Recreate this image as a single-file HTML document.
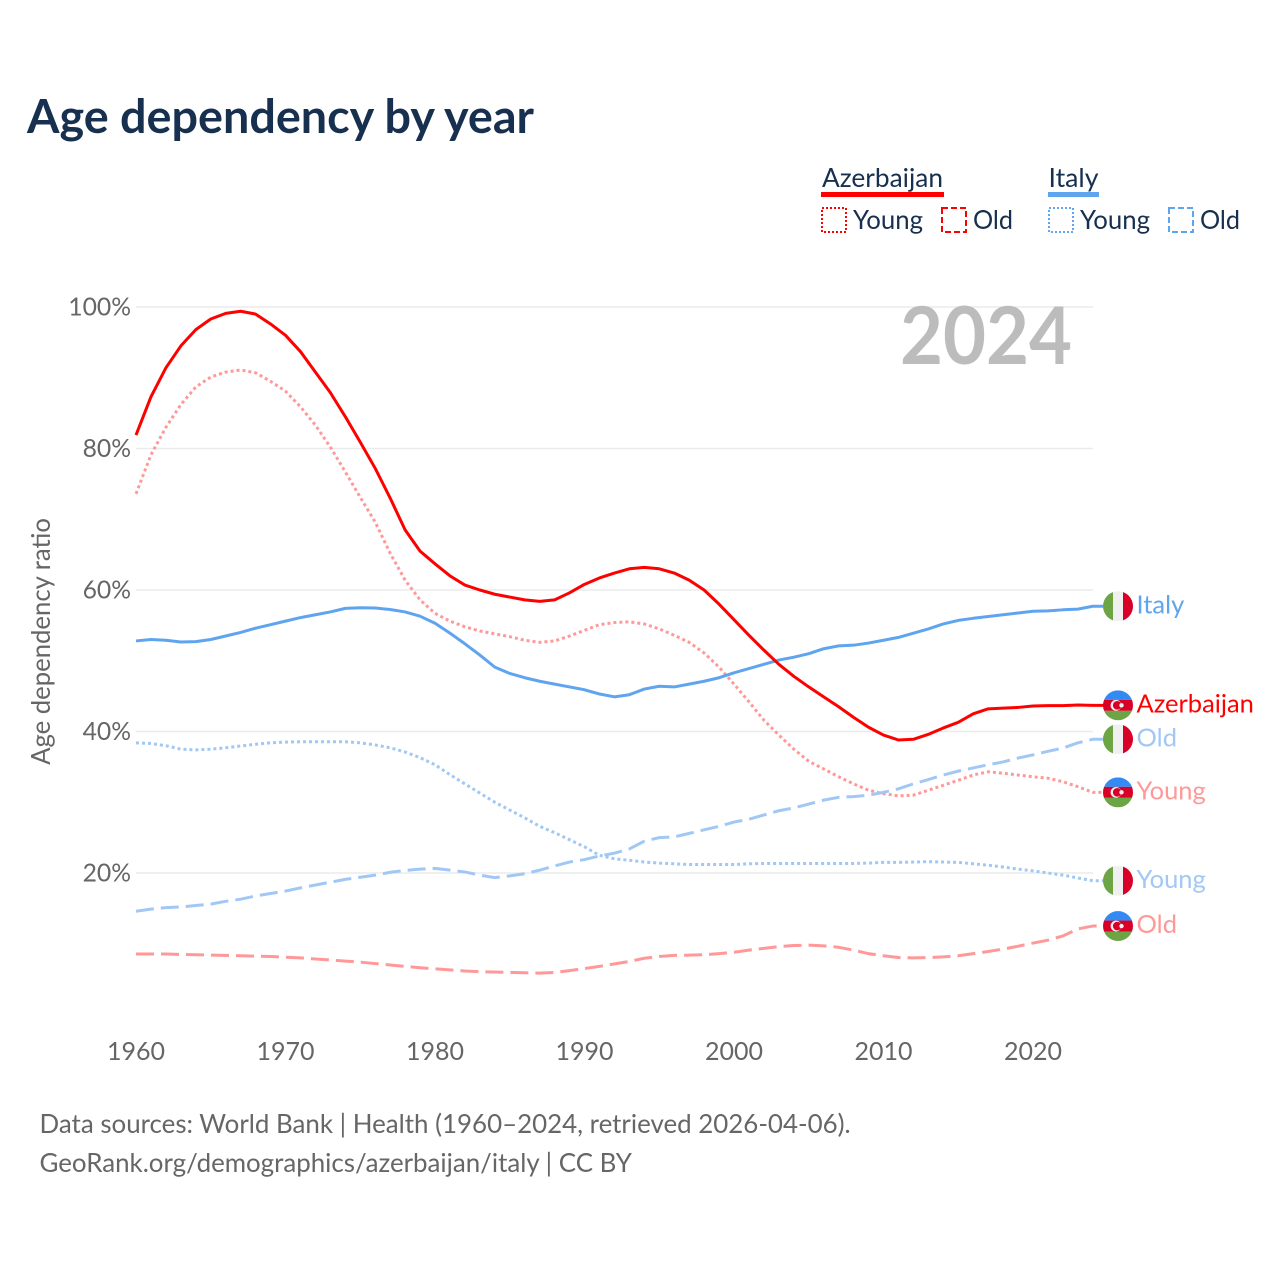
<!DOCTYPE html>
<html lang="en">
<head>
<meta charset="utf-8">
<title>Age dependency by year</title>
<style>
html,body{margin:0;padding:0;background:#fff}
svg{display:block}
text{font-family:"Lato","Carlito","Liberation Sans",sans-serif}
</style>
</head>
<body>
<svg id="chart" xmlns="http://www.w3.org/2000/svg" width="1280" height="1280" viewBox="0 0 1280 1280">
  <defs>
    <clipPath id="flag-clip"><circle cx="0" cy="0" r="15"/></clipPath>
    <g id="flag-it" clip-path="url(#flag-clip)">
      <rect x="-15" y="-15" width="30" height="30" fill="#f0f0f0"/>
      <rect x="-15" y="-15" width="10" height="30" fill="#6da544"/>
      <rect x="5" y="-15" width="10" height="30" fill="#d80027"/>
    </g>
    <g id="flag-az" clip-path="url(#flag-clip)">
      <rect x="-15" y="-15" width="30" height="9.5" fill="#338af3"/>
      <rect x="-15" y="-5.5" width="30" height="11" fill="#d80027"/>
      <rect x="-15" y="5.5" width="30" height="9.5" fill="#6da544"/>
      <circle cx="-2" cy="0" r="5.4" fill="#f0f0f0"/>
      <circle cx="-0.8" cy="0" r="4.3" fill="#d80027"/>
      <circle cx="3.5" cy="0" r="2.2" fill="#f0f0f0"/>
    </g>
  </defs>
  <rect width="1280" height="1280" fill="#fff"/>

  <text x="27" y="133" font-size="46.8" font-weight="700" fill="#17304f" textLength="507" lengthAdjust="spacingAndGlyphs">Age dependency by year</text>

  <g>
    <text x="822" y="187" font-size="25.7" fill="#17304f" textLength="121" lengthAdjust="spacingAndGlyphs">Azerbaijan</text>
    <rect x="821" y="192" width="123" height="5" fill="#ff0000"/>
    <rect x="822" y="208" width="24" height="24" fill="none" stroke="#ff0000" stroke-width="2" stroke-dasharray="2 2"/>
    <text x="853" y="229" font-size="25.7" fill="#17304f" textLength="70" lengthAdjust="spacingAndGlyphs">Young</text>
    <rect x="942" y="208" width="24" height="24" fill="none" stroke="#ff0000" stroke-width="2" stroke-dasharray="6 3"/>
    <text x="973" y="229" font-size="25.7" fill="#17304f" textLength="40" lengthAdjust="spacingAndGlyphs">Old</text>

    <text x="1048.5" y="187" font-size="25.7" fill="#17304f" textLength="50" lengthAdjust="spacingAndGlyphs">Italy</text>
    <rect x="1048" y="192" width="51" height="5" fill="#5fa4ef"/>
    <rect x="1049" y="208" width="24" height="24" fill="none" stroke="#5fa4ef" stroke-width="2" stroke-dasharray="2 2"/>
    <text x="1080" y="229" font-size="25.7" fill="#17304f" textLength="70" lengthAdjust="spacingAndGlyphs">Young</text>
    <rect x="1169" y="208" width="24" height="24" fill="none" stroke="#5fa4ef" stroke-width="2" stroke-dasharray="6 3"/>
    <text x="1200" y="229" font-size="25.7" fill="#17304f" textLength="40" lengthAdjust="spacingAndGlyphs">Old</text>
  </g>

  <text transform="translate(50,641.5) rotate(-90)" text-anchor="middle" font-size="25.7" fill="#666666">Age dependency ratio</text>

  <g id="grid"></g>
  <g id="y-ticks"></g>
  <g id="x-ticks"></g>

  <text x="900" y="364" font-size="80" font-weight="700" fill="#bcbcbc" textLength="172" lengthAdjust="spacingAndGlyphs">2024</text>

  <g id="series"></g>
  <g id="endpoints"></g>

  <text x="39.5" y="1133" font-size="25.9" fill="#666666">Data sources: World Bank | Health (1960–2024, retrieved 2026-04-06).</text>
  <text x="39.5" y="1172" font-size="25.9" fill="#666666">GeoRank.org/demographics/azerbaijan/italy | CC BY</text>
</svg>

<script>
var firstYear = 1960;
var xTickYears = [1960, 1970, 1980, 1990, 2000, 2010, 2020];
var yTickValues = [20, 40, 60, 80, 100];

var azerbaijanTotal = [81.9,87.3,91.4,94.5,96.8,98.3,99.1,99.4,99.0,97.6,96.0,93.7,90.8,87.9,84.5,80.9,77.2,73.0,68.5,65.5,63.7,62.0,60.7,60.0,59.4,59.0,58.6,58.4,58.6,59.6,60.8,61.7,62.4,63.0,63.2,63.0,62.4,61.4,60.0,58.0,55.8,53.6,51.5,49.5,47.8,46.3,44.9,43.5,42.0,40.6,39.5,38.8,38.9,39.6,40.5,41.3,42.5,43.2,43.3,43.4,43.6,43.65,43.65,43.75,43.7];
var azerbaijanYoung = [73.6,79.1,83.0,86.2,88.7,90.1,90.8,91.1,90.7,89.5,88.1,85.9,83.3,80.2,76.7,73.1,69.6,65.2,61.4,58.6,56.7,55.6,54.8,54.2,53.8,53.4,52.9,52.6,52.8,53.5,54.3,55.1,55.4,55.5,55.2,54.5,53.6,52.6,51.1,49.1,46.7,44.2,41.6,39.5,37.5,35.8,34.7,33.6,32.6,31.7,31.2,30.9,31.0,31.7,32.4,33.1,33.85,34.3,34.1,33.85,33.6,33.4,32.9,32.2,31.4];
var azerbaijanOld = [8.55,8.55,8.55,8.5,8.45,8.4,8.35,8.3,8.25,8.2,8.1,8.0,7.85,7.7,7.55,7.4,7.2,7.0,6.8,6.6,6.45,6.3,6.15,6.05,6.0,5.95,5.9,5.85,5.95,6.2,6.5,6.8,7.15,7.5,7.95,8.2,8.35,8.4,8.45,8.6,8.8,9.1,9.35,9.6,9.75,9.8,9.7,9.5,9.1,8.6,8.3,8.05,8.0,8.05,8.15,8.3,8.6,8.9,9.25,9.65,10.1,10.5,11.1,12.1,12.5];
var italyTotal = [52.8,53.0,52.9,52.65,52.7,53.0,53.5,54.0,54.6,55.1,55.6,56.1,56.5,56.9,57.4,57.5,57.45,57.25,56.9,56.3,55.3,53.9,52.4,50.8,49.1,48.2,47.6,47.1,46.7,46.3,45.9,45.3,44.9,45.2,46.0,46.4,46.3,46.7,47.1,47.6,48.3,48.9,49.5,50.1,50.5,51.0,51.7,52.1,52.2,52.5,52.9,53.3,53.9,54.5,55.2,55.7,56.0,56.25,56.5,56.75,57.0,57.05,57.2,57.3,57.7];
var italyYoung = [38.4,38.3,38.0,37.5,37.4,37.5,37.7,37.95,38.2,38.4,38.5,38.55,38.55,38.55,38.55,38.4,38.1,37.7,37.1,36.3,35.3,33.9,32.6,31.3,30.0,28.9,27.8,26.6,25.7,24.7,23.7,22.5,22.0,21.8,21.55,21.4,21.3,21.2,21.2,21.2,21.2,21.3,21.35,21.35,21.35,21.35,21.35,21.35,21.35,21.4,21.5,21.5,21.55,21.6,21.55,21.5,21.3,21.1,20.85,20.55,20.3,20.0,19.7,19.3,18.9];
var italyOld = [14.6,14.9,15.1,15.2,15.4,15.6,16.0,16.3,16.75,17.1,17.45,17.9,18.3,18.7,19.1,19.4,19.7,20.1,20.35,20.55,20.65,20.4,20.15,19.7,19.35,19.6,19.9,20.4,21.0,21.55,21.9,22.4,22.8,23.4,24.5,25.0,25.1,25.6,26.1,26.6,27.2,27.6,28.2,28.8,29.2,29.75,30.3,30.7,30.8,31.0,31.4,31.9,32.6,33.2,33.85,34.4,34.85,35.3,35.7,36.25,36.7,37.2,37.65,38.4,38.9];

var NS = 'http://www.w3.org/2000/svg';
function xScale(year) { return 136 + (year - 1960) * 14.95; }
function yScale(value) { return 1014.5 - value * 7.075; }

function make(tag, parent) {
  var el = document.createElementNS(NS, tag);
  parent.appendChild(el);
  return el;
}

var gridGroup = document.getElementById('grid');
var yTickGroup = document.getElementById('y-ticks');
yTickValues.forEach(function (v) {
  var line = make('line', gridGroup);
  
  
  line.setAttribute('x1', 136);
  line.setAttribute('x2', 1093);
  line.setAttribute('y1', yScale(v));
  line.setAttribute('y2', yScale(v));
  line.setAttribute('stroke', '#ebebeb');
  line.setAttribute('stroke-width', '1.5');
  var label = make('text', yTickGroup);
  
  
  label.setAttribute('x', 131);
  label.setAttribute('y', yScale(v) + 8.5);
  label.setAttribute('text-anchor', 'end');
  label.setAttribute('font-size', '24.7');
  label.setAttribute('fill', '#666666');
  label.textContent = v + '%';
});

var xTickGroup = document.getElementById('x-ticks');
xTickYears.forEach(function (yr) {
  var label = make('text', xTickGroup);
  
  
  label.setAttribute('x', xScale(yr));
  label.setAttribute('y', 1060);
  label.setAttribute('text-anchor', 'middle');
  label.setAttribute('font-size', '25');
  label.setAttribute('fill', '#666666');
  label.textContent = String(yr);
});

var seriesList = [
  { id: 'azerbaijan-old', values: azerbaijanOld, color: '#ff9999', dash: '18 7', flag: 'flag-az', label: 'Old' },
  { id: 'azerbaijan-young', values: azerbaijanYoung, color: '#ff9999', dash: '3 3', flag: 'flag-az', label: 'Young' },
  { id: 'italy-old', values: italyOld, color: '#a1c8f5', dash: '18 7', flag: 'flag-it', label: 'Old' },
  { id: 'italy-young', values: italyYoung, color: '#a1c8f5', dash: '3 3', flag: 'flag-it', label: 'Young' },
  { id: 'italy-total', values: italyTotal, color: '#5fa4ef', dash: '', flag: 'flag-it', label: 'Italy' },
  { id: 'azerbaijan-total', values: azerbaijanTotal, color: '#ff0000', dash: '', flag: 'flag-az', label: 'Azerbaijan' }
];

var seriesGroup = document.getElementById('series');
var endGroup = document.getElementById('endpoints');
seriesList.forEach(function (s) {
  var d = s.values.map(function (v, i) {
    return (i ? 'L' : 'M') + xScale(firstYear + i).toFixed(2) + ' ' + yScale(v).toFixed(2);
  }).join(' ');
  var last = s.values[s.values.length - 1];
  var endY = yScale(last);
  d += ' L1105 ' + endY.toFixed(2);
  var path = make('path', seriesGroup);
  
  
  path.setAttribute('d', d);
  path.setAttribute('fill', 'none');
  path.setAttribute('stroke', s.color);
  path.setAttribute('stroke-width', '3');
  path.setAttribute('stroke-linejoin', 'round');
  if (s.dash) path.setAttribute('stroke-dasharray', s.dash);

  var flag = make('use', endGroup);
  
  
  flag.setAttribute('href', '#' + s.flag);
  flag.setAttribute('transform', 'translate(1118,' + endY.toFixed(2) + ')');

  var text = make('text', endGroup);
  
  
  text.setAttribute('x', 1136.5);
  text.setAttribute('y', (endY + 7).toFixed(2));
  text.setAttribute('font-size', '25.5');
  text.setAttribute('fill', s.color);
  text.textContent = s.label;
});
</script>
</body>
</html>
